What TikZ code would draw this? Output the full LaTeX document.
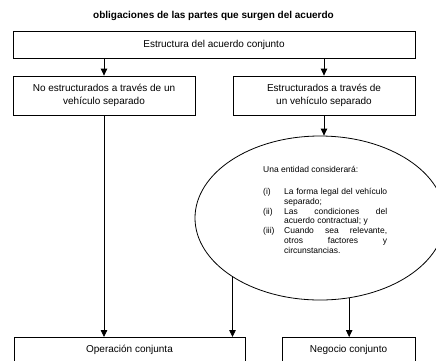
\documentclass[tikz,border=0pt]{standalone}
\usepackage{fontspec}
\setmainfont{Liberation Sans}
\usetikzlibrary{arrows.meta,shapes.geometric}
\tikzset{
  box/.style={draw, line width=0.8pt, inner sep=2pt, font=\fontsize{10}{13}\selectfont, align=center},
  conn/.style={line width=0.8pt, -{Triangle[length=7pt,width=6.5pt]}},
}
\newcommand{\nohyph}{\hyphenpenalty=10000\relax\exhyphenpenalty=10000\relax\tolerance=9999\relax\hbadness=10000\relax}
\begin{document}
\begin{tikzpicture}[x=1pt,y=-1pt]
\useasboundingbox (0,0) rectangle (436,360);
\clip (0,0) rectangle (436,360);
\node[font=\bfseries\fontsize{10}{12}\selectfont] (title) at (213.5,16) {obligaciones de las partes que surgen del acuerdo};
\node[box, minimum width=402pt, minimum height=27pt] (top) at (214,44.5) {Estructura del acuerdo conjunto};
\node[box, minimum width=182pt, minimum height=39pt] (lb) at (104,95.5) {No estructurados a través de un\\vehículo separado};
\node[box, minimum width=182pt, minimum height=39pt] (rb) at (324,95.5) {Estructurados a través de\\un vehículo separado};
\node[draw, ellipse, line width=0.8pt, minimum width=250pt, minimum height=164pt, inner sep=0pt] (ell) at (320,218) {};
\node[anchor=north west, inner sep=0pt, align=left,
      font=\fontsize{8.5}{9.8}\selectfont] (etext) at (263,166)
{Una entidad considerará:\\[14pt]
\nohyph
\begin{tabular}{@{}p{17pt}@{\hspace{4pt}}p{103pt}@{}}
(i) & \nohyph La forma legal del vehículo separado;\\
(ii) & \nohyph Las condiciones del acuerdo contractual; y\\
(iii) & \nohyph Cuando sea relevante, otros factores y circunstancias.
\end{tabular}};
\node[box, anchor=north, minimum width=231pt, minimum height=33pt, inner ysep=0pt, text height=15pt, text depth=18pt] (op) at (129.5,337) {Operación conjunta};
\node[box, anchor=north, minimum width=133pt, minimum height=33pt, inner ysep=0pt, text height=15pt, text depth=18pt] (ng) at (348.5,337) {Negocio conjunto};
\draw[conn] (top.south -| lb.north) -- (lb.north);
\draw[conn] (top.south -| rb.north) -- (rb.north);
\draw[conn] (rb.south) -- (rb.south |- ell.north);
\draw[conn] (lb.south) -- (lb.south |- op.north);
\draw[conn] (ell.214) -- (ell.214 |- op.north);
\draw[conn] (ell.290) -- (ell.290 |- ng.north);
\end{tikzpicture}
\end{document}
